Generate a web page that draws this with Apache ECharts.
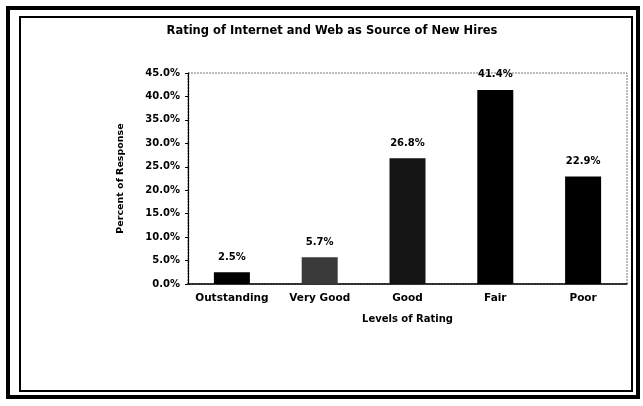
<!DOCTYPE html>
<html>
<head>
<meta charset="utf-8">
<script src="https://cdn.jsdelivr.net/npm/echarts@6/dist/echarts.min.js"></script>
<style>
  html, body { margin: 0; padding: 0; background: #fff; }
  #chart { width: 643px; height: 406px; }
</style>
</head>
<body>
<div id="chart"></div>
<script>
// Data
const categories = ["Outstanding", "Very Good", "Good", "Fair", "Poor"];
const percentValues = [2.5, 5.7, 26.8, 41.4, 22.9];
const barColors = ["#000000", "#3a3a3a", "#141414", "#000000", "#000000"];

let chart = echarts.init(document.getElementById("chart"));
const font = "DejaVu Sans, Verdana, sans-serif";

let option = {
    backgroundColor: "#ffffff",
    animation: false,
    title: {
        text: "Rating of Internet and Web as Source of New Hires",
        left: 327, top: 20, textAlign: "center",
        textStyle: { fontFamily: font, fontSize: 11.5, fontWeight: "bold", color: "#000" }
    },
    grid: { left: 188, right: 16, top: 73, bottom: 122, show: true, borderColor: "#777", borderWidth: 1, borderType: [2, 1] },
    xAxis: {
        type: "category",
        data: categories,
        name: "Levels of Rating",
        nameLocation: "middle",
        nameGap: 30,
        nameTextStyle: { fontFamily: font, fontSize: 10, fontWeight: "bold", color: "#000" },
        axisLine: { lineStyle: { color: "#000", width: 1.5 } },
        axisTick: { show: false },
        axisLabel: {
            interval: 0, hideOverlap: false,
            fontFamily: font, fontSize: 10.5, fontWeight: "bold", color: "#000", margin: 9
        }
    },
    yAxis: {
        type: "value",
        min: 0, max: 45, interval: 5,
        name: "Percent of Response",
        nameLocation: "middle",
        nameGap: 62,
        nameTextStyle: { fontFamily: font, fontSize: 9.5, fontWeight: "bold", color: "#000" },
        axisLine: { show: true, lineStyle: { color: "#000", width: 1.2 } },
        axisTick: { show: true, length: 3, lineStyle: { color: "#000" } },
        splitLine: { show: false },
        axisLabel: {
            fontFamily: font, fontSize: 10, fontWeight: "bold", color: "#000", margin: 8,
            formatter: v => v.toFixed(1) + "%"
        }
    },
    series: [{
        type: "bar",
        barWidth: 36,
        data: percentValues.map((v, i) => ({ value: v, itemStyle: { color: barColors[i] } })),
        label: {
            show: true, position: "top", distance: 10,
            fontFamily: font, fontSize: 10, fontWeight: "bold", color: "#000",
            formatter: p => p.value.toFixed(1) + "%"
        }
    }],
    graphic: [
        { type: "rect", shape: { x: 8, y: 8, width: 630, height: 389 }, style: { fill: "none", stroke: "#000", lineWidth: 4 } },
        { type: "rect", shape: { x: 20, y: 17, width: 612, height: 374 }, style: { fill: "none", stroke: "#000", lineWidth: 2 } }
    ]
};

chart.setOption(option);
</script>
</body>
</html>
